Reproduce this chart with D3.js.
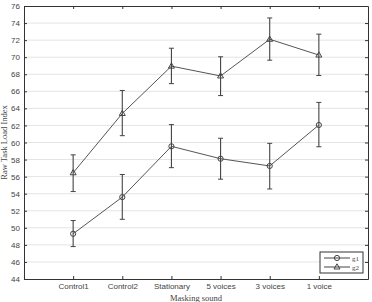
<!DOCTYPE html>
<html>
<head>
<meta charset="utf-8">
<script src="https://cdn.jsdelivr.net/npm/d3@7"></script>
<style>
body { margin: 0; background: #fff; }
.tick text { font-family: "Liberation Sans", Arial, sans-serif; font-size: 8px; fill: #444; }
</style>
</head>
<body>
<script>

var categories = ["Control1", "Control2", "Stationary", "5 voices", "3 voices", "1 voice"];

var g1_mean = [49.3, 53.6, 59.55, 58.1, 57.25, 62.05];
var g1_low  = [47.8, 51.0, 57.05, 55.7, 54.55, 59.5];
var g1_high = [50.85, 56.25, 62.1, 60.5, 59.9, 64.7];

var g2_mean = [56.45, 63.4, 68.95, 67.8, 72.1, 70.25];
var g2_low  = [54.25, 60.8, 66.9, 65.5, 69.65, 67.85];
var g2_high = [58.55, 66.1, 71.05, 70.05, 74.6, 72.7];

var y_ticks = [44, 46, 48, 50, 52, 54, 56, 58, 60, 62, 64, 66, 68, 70, 72, 74, 76];

var size_graph = { x: 372, y: 302 };
var margin = {top: 6, right: 4, bottom: 23, left: 24},
    width  = size_graph.x - margin.left - margin.right,
    height = size_graph.y - margin.top - margin.bottom;

var x = d3.scaleLinear().domain([0, 7]).range([0, width]);
var y = d3.scaleLinear().domain([44, 76]).range([height, 0]);

var svg = d3.select("body").append("svg")
    .attr("width", size_graph.x)
    .attr("height", size_graph.y)
  .append("g")
    .attr("transform", `translate(${margin.left},${margin.top})`);

// horizontal grid
svg.append("g").selectAll("line")
    .data(y_ticks.slice(1, -1))
    .enter().append("line")
    .attr("x1", 0).attr("x2", width)
    .attr("y1", d => y(d)).attr("y2", d => y(d))
    .attr("stroke", "#e4e4e4").attr("stroke-width", 1);

var xpos = categories.map((c, i) => i + 1);

var xAxis = d3.axisBottom(x).tickValues(xpos).tickFormat((d, i) => categories[i]).tickSizeInner(-3).tickSizeOuter(0).tickPadding(4);
var xTop  = d3.axisTop(x).tickValues(xpos).tickFormat("").tickSizeInner(-3).tickSizeOuter(0);
var yAxis = d3.axisLeft(y).tickValues(y_ticks).tickSizeInner(-3).tickSizeOuter(0).tickPadding(4);
var yRight = d3.axisRight(y).tickValues(y_ticks).tickFormat("").tickSizeInner(-3).tickSizeOuter(0);

function styleAxis(g) {
  g.select(".domain").attr("stroke", "#333");
  g.selectAll(".tick line").attr("stroke", "#333");
}

svg.append("g").attr("transform", `translate(0,${height})`).call(xAxis).call(styleAxis);
svg.append("g").call(xTop).call(styleAxis);
svg.append("g").call(yAxis).call(styleAxis);
svg.append("g").attr("transform", `translate(${width},0)`).call(yRight).call(styleAxis);

var line = d3.line().x((d, i) => x(xpos[i])).y(d => y(d));

function drawSeries(mean, low, high, marker) {
  var gs = svg.append("g");
  gs.append("path").datum(mean)
    .attr("d", line).attr("fill", "none").attr("stroke", "#555").attr("stroke-width", 1);
  mean.forEach(function(m, i) {
    var cx = x(xpos[i]);
    gs.append("line").attr("x1", cx).attr("x2", cx).attr("y1", y(low[i])).attr("y2", y(high[i]))
      .attr("stroke", "#444").attr("stroke-width", 1.1);
    [low[i], high[i]].forEach(function(v) {
      gs.append("line").attr("x1", cx - 2.5).attr("x2", cx + 2.5).attr("y1", y(v)).attr("y2", y(v))
        .attr("stroke", "#444").attr("stroke-width", 1);
    });
    drawMarker(gs, cx, y(m), marker);
  });
}

function drawMarker(g, cx, cy, marker) {
  if (marker === "circle") {
    g.append("circle").attr("cx", cx).attr("cy", cy).attr("r", 2.6)
      .attr("fill", "none").attr("stroke", "#444").attr("stroke-width", 1);
  } else {
    g.append("path")
      .attr("d", `M${cx},${cy - 3.2}L${cx + 3},${cy + 2}L${cx - 3},${cy + 2}Z`)
      .attr("fill", "none").attr("stroke", "#444").attr("stroke-width", 1);
  }
}

drawSeries(g1_mean, g1_low, g1_high, "circle");
drawSeries(g2_mean, g2_low, g2_high, "triangle");

// legend
var lg = svg.append("g").attr("transform", `translate(${320 - margin.left},${252 - margin.top})`);
lg.append("rect").attr("width", 43).attr("height", 21)
  .attr("fill", "#fff").attr("stroke", "#333").attr("stroke-width", 1);
[["g1", "circle"], ["g2", "triangle"]].forEach(function(d, i) {
  var yy = 6 + i * 9;
  lg.append("line").attr("x1", 4).attr("x2", 30).attr("y1", yy).attr("y2", yy)
    .attr("stroke", "#444").attr("stroke-width", 1);
  drawMarker(lg, 17, yy, d[1]);
  lg.append("text").attr("x", 32).attr("y", yy + 2.5).text(d[0])
    .attr("font-family", "Liberation Serif, serif").attr("font-size", 7).attr("fill", "#444");
});

// axis titles
svg.append("text")
  .attr("x", width / 2).attr("y", height + 21.5)
  .attr("text-anchor", "middle")
  .attr("font-family", "Liberation Serif, serif").attr("font-size", 8.5).attr("fill", "#444")
  .text("Masking sound");

svg.append("text")
  .attr("transform", `translate(${-17},${height / 2}) rotate(-90)`)
  .attr("text-anchor", "middle")
  .attr("font-family", "Liberation Serif, serif").attr("font-size", 8.5).attr("fill", "#444")
  .text("Raw Task Load Index");

</script>
</body>
</html>
